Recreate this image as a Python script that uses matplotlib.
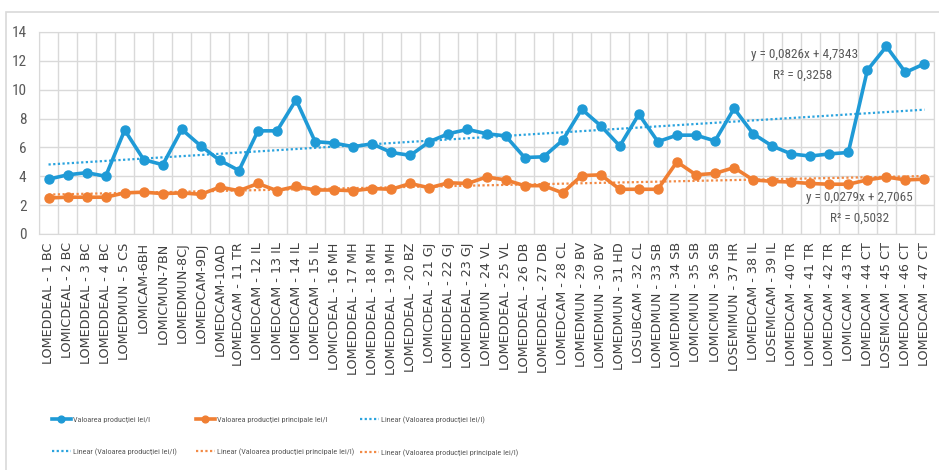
import numpy as np
import matplotlib
matplotlib.use("Agg")
import matplotlib.pyplot as plt
from matplotlib import font_manager
from matplotlib.patches import Rectangle

# categories (x axis)
labels = [
    "LOMEDDEAL - 1 BC", "LOMICDEAL - 2 BC", "LOMEDDEAL - 3 BC", "LOMEDDEAL - 4 BC",
    "LOMEDMUN - 5 CS", "LOMICAM-6BH", "LOMICMUN-7BN", "LOMEDMUN-8CJ",
    "LOMEDCAM-9DJ", "LOMEDCAM-10AD", "LOMEDCAM - 11 TR", "LOMEDCAM - 12 IL",
    "LOMEDCAM - 13 IL", "LOMEDCAM - 14 IL", "LOMEDCAM - 15 IL", "LOMICDEAL - 16 MH",
    "LOMEDDEAL - 17 MH", "LOMEDDEAL - 18 MH", "LOMEDDEAL - 19 MH", "LOMEDDEAL - 20 BZ",
    "LOMICDEAL - 21 GJ", "LOMEDDEAL - 22 GJ", "LOMEDDEAL - 23 GJ", "LOMEDMUN - 24 VL",
    "LOMEDDEAL - 25 VL", "LOMEDDEAL - 26 DB", "LOMEDDEAL - 27 DB", "LOMEDCAM - 28 CL",
    "LOMEDMUN - 29 BV", "LOMEDMUN - 30 BV", "LOMEDMUN - 31 HD", "LOSUBCAM - 32 CL",
    "LOMEDMUN - 33 SB", "LOMEDMUN - 34 SB", "LOMICMUN - 35 SB", "LOMICMUN - 36 SB",
    "LOSEMIMUN - 37 HR", "LOMEDCAM - 38 IL", "LOSEMICAM - 39 IL", "LOMEDCAM - 40 TR",
    "LOMEDCAM - 41 TR", "LOMEDCAM - 42 TR", "LOMICCAM - 43 TR", "LOMEDCAM - 44 CT",
    "LOSEMICAM - 45 CT", "LOMEDCAM - 46 CT", "LOMEDCAM - 47 CT",
]

# Valoarea productiei lei/l
prod = [3.8, 4.1, 4.25, 4.0, 7.2, 5.15, 4.8, 7.25, 6.1, 5.1, 4.4, 7.15,
        7.15, 9.3, 6.4, 6.3, 6.05, 6.25, 5.65, 5.45, 6.4, 6.95, 7.25, 6.95,
        6.8, 5.3, 5.35, 6.5, 8.65, 7.5, 6.1, 8.3, 6.4, 6.85, 6.85, 6.45,
        8.7, 6.95, 6.1, 5.55, 5.4, 5.55, 5.65, 11.35, 13.0, 11.2, 11.8]

# Valoarea productiei principale lei/l
princ = [2.5, 2.55, 2.55, 2.55, 2.85, 2.9, 2.8, 2.85, 2.75, 3.25, 3.0, 3.5,
         3.0, 3.3, 3.05, 3.05, 3.0, 3.15, 3.1, 3.5, 3.2, 3.55, 3.5, 3.95,
         3.75, 3.35, 3.35, 2.85, 4.05, 4.1, 3.1, 3.1, 3.1, 5.0, 4.1, 4.2,
         4.6, 3.75, 3.65, 3.6, 3.5, 3.45, 3.45, 3.75, 3.95, 3.75, 3.8]

# trendline coefficients (slope, intercept, R2) as printed on the chart
trend_prod = (0.0826, 4.7343, 0.3258)
trend_princ = (0.0279, 2.7065, 0.5032)

name_prod = "Valoarea producţiei lei/l"
name_princ = "Valoarea producţiei principale lei/l"


def pick_font(names):
    for n in names:
        try:
            font_manager.findfont(font_manager.FontProperties(family=n),
                                  fallback_to_default=False)
            return n
        except ValueError:
            pass
    return "DejaVu Sans"


narrow = pick_font(["Liberation Sans Narrow", "DejaVu Sans Condensed",
                    "Roboto Condensed", "Open Sans Condensed"])
narrow_fam = [narrow, "DejaVu Sans"]

blue = "#1f9ad6"
orange = "#f07f33"
grid_c = "#d9d9d9"
text_c = "#595959"

W, H = 939, 470
fig = plt.figure(figsize=(W / 100, H / 100), dpi=100)

# outer chart border
fig.patches.append(Rectangle((6 / W, -0.1), 1.0, 1 - 12 / H + 0.1,
                             transform=fig.transFigure, fill=False,
                             ec=grid_c, lw=1.2))

ax = fig.add_axes([39 / W, 1 - 234 / H, (934 - 39) / W, (234 - 32) / H])
x = np.arange(1, len(labels) + 1)

l_prod, = ax.plot(x, prod, color=blue, lw=2.6, marker="o", ms=6.5,
                  zorder=4, label=name_prod)
l_princ, = ax.plot(x, princ, color=orange, lw=2.6, marker="o", ms=6.5,
                   zorder=4, label=name_princ)

a, b, r2 = trend_prod
t_prod, = ax.plot(x, a * x + b, color="#2aa3de", lw=1.6,
                  ls=(0, (1, 1.1)), zorder=3)
a2, b2, r22 = trend_princ
t_princ, = ax.plot(x, a2 * x + b2, color="#f28a45", lw=1.6,
                   ls=(0, (1, 1.1)), zorder=3)

ax.set_xlim(0.5, len(labels) + 0.5)
ax.set_ylim(0, 14)
ax.set_yticks(range(0, 15, 2))
ax.set_xticks(x)
ax.set_xticklabels(labels, rotation=90, fontsize=9.2, color="#404040")
ax.set_xticks(np.arange(0.5, len(labels) + 1, 1), minor=True)
ax.grid(which="minor", axis="x", color=grid_c, lw=1)
ax.grid(which="major", axis="y", color=grid_c, lw=1)
ax.set_axisbelow(True)
ax.tick_params(which="both", length=0)
ax.tick_params(axis="x", pad=6)
ax.tick_params(axis="y", pad=9)
for lab in ax.get_yticklabels():
    lab.set_family(narrow_fam)
    lab.set_fontsize(11)
    lab.set_color(text_c)
for s in ax.spines.values():
    s.set_color(grid_c)

# trendline equations
ax.text(40.7, 12.45, "y = 0,0826x + 4,7343", ha="center", va="center",
        family=narrow_fam, fontsize=9.5, color=text_c)
ax.text(40.6, 11.0, "R² = 0,3258", ha="center", va="center",
        family=narrow_fam, fontsize=9.5, color=text_c)
ax.text(43.6, 2.5, "y = 0,0279x + 2,7065", ha="center", va="center",
        family=narrow_fam, fontsize=9.5, color=text_c)
ax.text(43.6, 1.1, "R² = 0,5032", ha="center", va="center",
        family=narrow_fam, fontsize=9.5, color=text_c)

# legend: three columns placed like the original
lin_prod = "Linear (" + name_prod + ")"
lin_princ = "Linear (" + name_princ + ")"
cols = [
    ([l_prod, t_prod], [name_prod, lin_prod], 52),
    ([l_princ, t_princ], [name_princ, lin_princ], 196),
    ([t_prod, t_princ], [lin_prod, lin_princ], 360),
]
for hs, ls, px in cols:
    leg = fig.legend(hs, ls, loc="upper left",
                     bbox_to_anchor=(px / W, 1 - 416 / H),
                     frameon=False, borderpad=0, borderaxespad=0,
                     handlelength=2.3, handletextpad=0.25, labelspacing=3.1,
                     markerscale=0.75, numpoints=1,
                     prop={"family": narrow_fam, "size": 5.9})
    for t in leg.get_texts():
        t.set_color(text_c)

fig.savefig("out.png", dpi=100)
